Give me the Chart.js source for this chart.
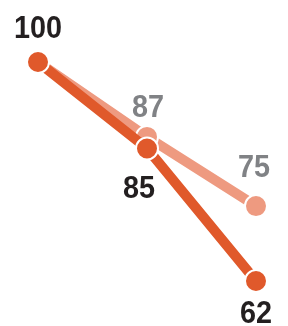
<!DOCTYPE html>
<html>
<head>
<meta charset="utf-8">
<script src="https://cdn.jsdelivr.net/npm/chart.js@4/dist/chart.umd.min.js"></script>
<style>
  html, body { margin: 0; padding: 0; background: #fff; }
  #wrap { width: 288px; height: 326px; }
</style>
</head>
<body>
<div id="wrap"><canvas id="chart"></canvas></div>
<script>
const labels = ['A', 'B', 'C'];
const darkValues = [100, 85, 62];
const lightValues = [100, 87, 75];

// label offsets from each point (baseline), null = no label
const darkLabelOffsets = [[0, -24], [-8, 50], [0, 42]];
const lightLabelOffsets = [null, [1, -20], [-2, -29]];

const valueLabels = {
    id: 'valueLabels',
    afterDatasetsDraw(chart) {
        const ctx = chart.ctx;
        chart.data.datasets.forEach((ds, i) => {
            const meta = chart.getDatasetMeta(i);
            meta.data.forEach((pt, j) => {
                const off = ds.labelOffsets[j];
                if (!off) return;
                ctx.save();
                ctx.translate(pt.x + off[0], pt.y + off[1]);
                ctx.scale(0.9, 1);
                ctx.font = 'bold 32px "Liberation Sans", Arial, sans-serif';
                ctx.textAlign = 'center';
                ctx.textBaseline = 'alphabetic';
                ctx.fillStyle = ds.labelColor;
                ctx.fillText(String(ds.data[j]), 0, 0);
                ctx.restore();
            });
        });
    }
};

const ctx = document.querySelector('#chart').getContext('2d');
const chart = new Chart(ctx, {
    type: 'line',
    data: {
        labels: labels,
        datasets: [
            {
                data: darkValues,
                borderColor: '#e0592b',
                backgroundColor: '#e0592b',
                borderWidth: 10,
                pointRadius: 11,
                pointBorderColor: '#ffffff',
                pointBorderWidth: 2,
                labelColor: '#231f20',
                labelOffsets: darkLabelOffsets,
                order: 1,
                clip: false,
            },
            {
                data: lightValues,
                borderColor: '#ee9a80',
                backgroundColor: '#ee9a80',
                borderWidth: 10,
                pointRadius: 11,
                pointBorderColor: '#ffffff',
                pointBorderWidth: 2,
                labelColor: '#808285',
                labelOffsets: lightLabelOffsets,
                order: 2,
                clip: false,
            }
        ]
    },
    options: {
        responsive: true,
        maintainAspectRatio: false,
        animation: false,
        layout: { padding: { left: 38, right: 32, top: 62, bottom: 45 } },
        plugins: { legend: { display: false }, tooltip: { enabled: false } },
        scales: {
            x: { display: false, offset: false },
            y: { display: false, min: 62, max: 100 }
        }
    },
    plugins: [valueLabels]
});
</script>
</body>
</html>
